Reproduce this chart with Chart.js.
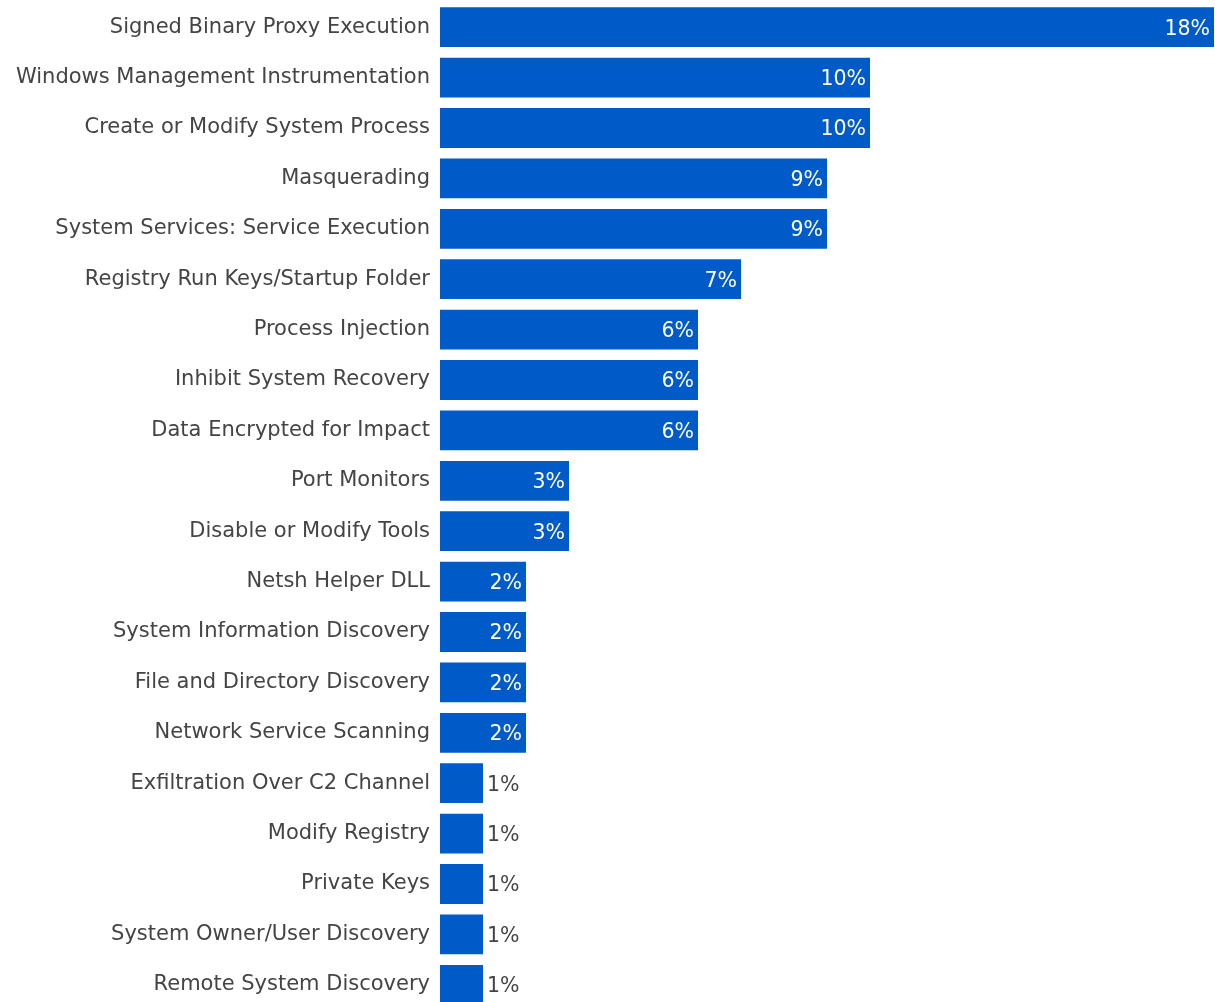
<!DOCTYPE html>
<html>
<head>
<meta charset="utf-8">
<script src="https://cdn.jsdelivr.net/npm/chart.js@4/dist/chart.umd.min.js"></script>
<style>
  html, body { margin: 0; padding: 0; background: #fff; overflow: hidden; }
  #wrap { position: relative; width: 1215px; height: 1010px; }
</style>
</head>
<body>
<div id="wrap"><canvas id="c"></canvas></div>
<script>
const categories = [
  "Signed Binary Proxy Execution",
  "Windows Management Instrumentation",
  "Create or Modify System Process",
  "Masquerading",
  "System Services: Service Execution",
  "Registry Run Keys/Startup Folder",
  "Process Injection",
  "Inhibit System Recovery",
  "Data Encrypted for Impact",
  "Port Monitors",
  "Disable or Modify Tools",
  "Netsh Helper DLL",
  "System Information Discovery",
  "File and Directory Discovery",
  "Network Service Scanning",
  "Exfiltration Over C2 Channel",
  "Modify Registry",
  "Private Keys",
  "System Owner/User Discovery",
  "Remote System Discovery"
];
const shares = [18, 10, 10, 9, 9, 7, 6, 6, 6, 3, 3, 2, 2, 2, 2, 1, 1, 1, 1, 1];

const FONT = "'DejaVu Sans', sans-serif";

const valueLabels = {
  id: 'valueLabels',
  afterDatasetsDraw(chart) {
    const ctx = chart.ctx;
    const meta = chart.getDatasetMeta(0);
    ctx.save();
    ctx.font = "20.5px " + FONT;
    ctx.textBaseline = 'middle';
    meta.data.forEach((bar, i) => {
      const txt = shares[i] + '%';
      const w = ctx.measureText(txt).width;
      const barW = bar.x - bar.base;
      if (w + 16 < barW) {
        ctx.fillStyle = '#ffffff';
        ctx.textAlign = 'right';
        ctx.fillText(txt, bar.x - 4, bar.y + 2);
      } else {
        ctx.fillStyle = '#444444';
        ctx.textAlign = 'left';
        ctx.fillText(txt, bar.x + 4, bar.y + 2);
      }
    });
    ctx.restore();
  }
};

new Chart(document.getElementById('c'), {
  type: 'bar',
  data: {
    labels: categories,
    datasets: [{
      data: shares,
      backgroundColor: '#005BC8',
      borderWidth: 0,
      barPercentage: 0.79,
      categoryPercentage: 1.0
    }]
  },
  options: {
    indexAxis: 'y',
    responsive: true,
    maintainAspectRatio: false,
    animation: false,
    layout: { padding: { top: 2, right: 1, bottom: 0, left: 0 } },
    plugins: { legend: { display: false }, tooltip: { enabled: false } },
    scales: {
      x: {
        display: false,
        min: 0,
        max: 18
      },
      y: {
        grid: { display: false, drawTicks: false },
        border: { display: false },
        ticks: {
          color: '#444444',
          font: { family: FONT, size: 21 },
          padding: 10,
          autoSkip: false
        },
        afterFit(scale) {
          scale.width = 440;
          scale.paddingTop = 0;
          scale.paddingBottom = 0;
        }
      }
    }
  },
  plugins: [valueLabels]
});
</script>
</body>
</html>
